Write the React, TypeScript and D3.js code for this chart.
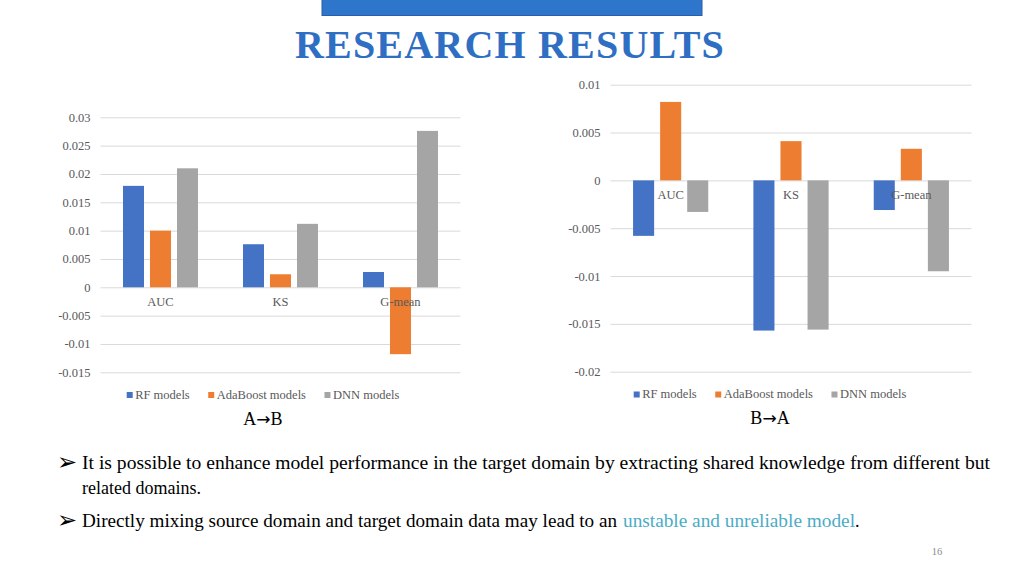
import { useEffect, useRef } from 'react'
import * as d3 from 'd3'

const categories = ['AUC', 'KS', 'G-mean']
const seriesNames = ['RF models', 'AdaBoost models', 'DNN models']
const seriesColors = ['#4472C4', '#ED7D31', '#A5A5A5']

// A -> B
const abRF = [0.0179, 0.0076, 0.0027]
const abAda = [0.01, 0.0023, -0.0118]
const abDNN = [0.021, 0.0112, 0.0276]
const abTicks = [-0.015, -0.01, -0.005, 0, 0.005, 0.01, 0.015, 0.02, 0.025, 0.03]

// B -> A
const baRF = [-0.0058, -0.0157, -0.0031]
const baAda = [0.0082, 0.0041, 0.0033]
const baDNN = [-0.0033, -0.0156, -0.0095]
const baTicks = [-0.02, -0.015, -0.01, -0.005, 0, 0.005, 0.01]

const SERIF = "'Liberation Serif', 'Times New Roman', serif"

type ChartCfg = {
  values: number[][]
  ticks: number[]
  left: number
  right: number
  top: number
  bottom: number
  legendX: number
  legendY: number
  caption: [string, string]
}

function drawChart(svg: d3.Selection<SVGSVGElement, unknown, null, undefined>, cfg: ChartCfg) {
  const g = svg.append('g')
  const y = d3
    .scaleLinear()
    .domain([cfg.ticks[0], cfg.ticks[cfg.ticks.length - 1]])
    .range([cfg.bottom, cfg.top])
  const x0 = d3.scaleBand<string>().domain(categories).range([cfg.left, cfg.right]).paddingInner(0.375).paddingOuter(0.1875)
  const x1 = d3.scaleBand<string>().domain(seriesNames).range([0, x0.bandwidth()]).paddingInner(0.222)

  // gridlines + tick labels
  const yAxis = d3
    .axisLeft(y)
    .tickValues(cfg.ticks)
    .tickSize(-(cfg.right - cfg.left))
    .tickPadding(10)
    .tickFormat((d: any) => String(parseFloat((+d).toFixed(3))))
  const ax = g.append('g').attr('transform', `translate(${cfg.left},0)`).call(yAxis as any)
  ax.select('.domain').remove()
  ax.selectAll('.tick line').attr('stroke', '#D9D9D9').attr('stroke-width', 1)
  ax.selectAll('.tick text')
    .attr('fill', '#595959')
    .style('font-family', SERIF)
    .style('font-size', '12.5px')

  // bars
  cfg.values.forEach((vals, si) => {
    g.selectAll(null)
      .data(vals)
      .enter()
      .append('rect')
      .attr('x', (_d: number, i: number) => (x0(categories[i]) ?? 0) + (x1(seriesNames[si]) ?? 0))
      .attr('width', x1.bandwidth())
      .attr('y', (d: number) => y(Math.max(0, d)))
      .attr('height', (d: number) => Math.abs(y(d) - y(0)))
      .attr('fill', seriesColors[si])
  })

  // category labels (below zero line)
  g.selectAll(null)
    .data(categories)
    .enter()
    .append('text')
    .attr('x', (d: string) => (x0(d) ?? 0) + x0.bandwidth() / 2)
    .attr('y', y(0) + 19)
    .attr('text-anchor', 'middle')
    .attr('fill', '#595959')
    .style('font-family', SERIF)
    .style('font-size', '12.5px')
    .text((d: string) => d)

  // legend
  const leg = g.append('g')
  let cx = 0
  seriesNames.forEach((name, i) => {
    leg.append('rect')
      .attr('x', cx)
      .attr('y', cfg.legendY - 6.5)
      .attr('width', 6)
      .attr('height', 6)
      .attr('fill', seriesColors[i])
    const t = leg.append('text')
      .attr('x', cx + 8.5)
      .attr('y', cfg.legendY)
      .attr('fill', '#595959')
      .style('font-family', SERIF)
      .style('font-size', '12.5px')
      .text(name)
    const w = (t.node() as SVGTextElement).getComputedTextLength()
    cx += 8.5 + w + (i < seriesNames.length - 1 ? 18.5 : 0)
  })
  leg.attr('transform', `translate(${cfg.legendX - cx / 2},0)`)

  const cap = g.append('text')
    .attr('x', cfg.legendX)
    .attr('y', cfg.legendY + 26)
    .attr('text-anchor', 'middle')
    .attr('fill', '#000')
    .style('font-family', SERIF)
    .style('font-size', '18px')
  cap.append('tspan').text(cfg.caption[0])
  cap.append('tspan').style('font-family', "'DejaVu Sans', sans-serif").style('font-size', '17px').text('→')
  cap.append('tspan').text(cfg.caption[1])
}

export default function App() {
  const ref = useRef<SVGSVGElement | null>(null)
  useEffect(() => {
    const svg = d3.select(ref.current as SVGSVGElement)
    svg.selectAll('*').remove()

    // header bar + title
    svg.append('rect').attr('x', 322).attr('y', -1).attr('width', 380).attr('height', 16.5)
      .attr('fill', '#2E75CC').attr('stroke', '#2A5FA8').attr('stroke-width', 1)
    svg.append('text')
      .attr('x', 510).attr('y', 58)
      .attr('text-anchor', 'middle')
      .attr('fill', '#2F6FC3')
      .style('font-family', SERIF)
      .style('font-weight', 'bold')
      .style('font-size', '40px')
      .style('letter-spacing', '1.2px')
      .text('RESEARCH RESULTS')

    drawChart(svg, {
      values: [abRF, abAda, abDNN],
      ticks: abTicks,
      left: 100.5, right: 460.5, top: 117.3, bottom: 372.3,
      legendX: 263, legendY: 398.5, caption: ['A', 'B'],
    })
    drawChart(svg, {
      values: [baRF, baAda, baDNN],
      ticks: baTicks,
      left: 610.5, right: 971.5, top: 84.7, bottom: 371.7,
      legendX: 770, legendY: 398, caption: ['B', 'A'],
    })

    // bullet text
    const txt = svg.append('g').style('font-family', SERIF).style('font-size', '18px').attr('fill', '#000')
    const bullet = (yy: number) =>
      txt.append('text').attr('x', 57).attr('y', yy).style('font-family', "'DejaVu Sans', sans-serif")
        .style('font-size', '24px').text('➢')
    bullet(470)
    txt.append('text').attr('x', 82).attr('y', 469)
      .attr('textLength', 908).attr('lengthAdjust', 'spacingAndGlyphs')
      .text('It is possible to enhance model performance in the target domain by extracting shared knowledge from different but')
    txt.append('text').attr('x', 82).attr('y', 494).text('related domains.')
    bullet(528)
    txt.append('text').attr('x', 82).attr('y', 527)
      .attr('textLength', 535).attr('lengthAdjust', 'spacingAndGlyphs')
      .text('Directly mixing source domain and target domain data may lead to an')
    txt.append('text').attr('x', 623).attr('y', 527).attr('fill', '#4BACC6')
      .attr('textLength', 232).attr('lengthAdjust', 'spacingAndGlyphs')
      .text('unstable and unreliable model')
    txt.append('text').attr('x', 855).attr('y', 527).text('.')

    svg.append('text').attr('x', 937).attr('y', 555).attr('text-anchor', 'middle')
      .attr('fill', '#8C8C8C').style('font-family', SERIF).style('font-size', '10.5px').text('16')
  }, [])
  return (
    <svg
      ref={ref}
      width={1024}
      height={576}
      style={{ position: 'absolute', left: 0, top: 0, background: '#fff' }}
    />
  )
}
